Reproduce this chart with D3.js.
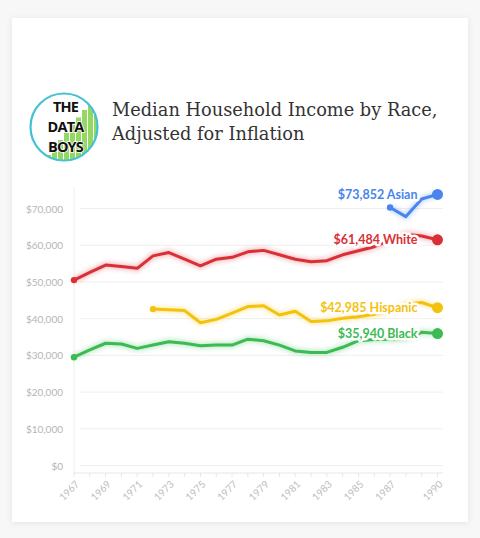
<!DOCTYPE html>
<html>
<head>
<meta charset="utf-8">
<script src="https://cdn.jsdelivr.net/npm/d3@7"></script>
<style>
  body { margin: 0; background: #f7f7f7; }
  svg { display: block; }
</style>
</head>
<body>
<script>
// data (thousands of dollars, adjusted for inflation)
const years = d3.range(1967, 1991);
const whiteIncome = [50.5, 52.6, 54.6, 54.2, 53.7, 57.1, 58.0, 56.2, 54.4, 56.2, 56.7, 58.2,
                     58.6, 57.4, 56.2, 55.5, 55.8, 57.4, 58.5, 59.6, 61.3, 63.0, 62.5, 61.484];
const blackIncome = [29.5, 31.5, 33.3, 33.1, 31.9, 32.8, 33.7, 33.3, 32.6, 32.8, 32.8, 34.4,
                     34.0, 32.8, 31.2, 30.8, 30.8, 32.2, 34.0, 34.3, 34.4, 34.6, 36.3, 35.94];
const hispanicYears = d3.range(1972, 1991);
const hispanicIncome = [42.6, 42.4, 42.2, 38.9, 39.8, 41.5, 43.3, 43.5, 41.0, 42.0, 39.2, 39.4,
                        40.1, 40.5, 41.2, 42.0, 44.0, 44.4, 42.985];
const asianYears = d3.range(1987, 1991);
const asianIncome = [70.3, 67.8, 72.6, 73.852];

const seriesNames = ["Asian", "White", "Hispanic", "Black"];
const seriesColors = ["#4885ed", "#d93036", "#f4c20d", "#3cba54"];
const yTicks = [0, 10000, 20000, 30000, 40000, 50000, 60000, 70000];
const xTickLabels = [1967, 1969, 1971, 1973, 1975, 1977, 1979, 1981, 1983, 1985, 1987, 1990];

const series = [
  {years: asianYears, values: asianIncome},
  {years: years, values: whiteIncome},
  {years: hispanicYears, values: hispanicIncome},
  {years: years, values: blackIncome}
].map(function(s, i) {
  return {
    name: seriesNames[i],
    color: seriesColors[i],
    points: s.years.map(function(y, j) { return {year: y, value: s.values[j] * 1000}; })
  };
});

const W = 480, H = 538;
const svg = d3.select("body").append("svg").attr("width", W).attr("height", H);
const defs = svg.append("defs");

// card shadow
const shadow = defs.append("filter").attr("id", "cardShadow")
  .attr("x", "-10%").attr("y", "-10%").attr("width", "120%").attr("height", "120%");
shadow.append("feDropShadow").attr("dx", 0).attr("dy", 1).attr("stdDeviation", 3)
  .attr("flood-color", "#000").attr("flood-opacity", 0.08);

// soft glow under lines
const glow = defs.append("filter").attr("id", "glow")
  .attr("x", "-10%").attr("y", "-30%").attr("width", "120%").attr("height", "160%");
glow.append("feGaussianBlur").attr("stdDeviation", 2.2);

svg.append("rect")
  .attr("x", 12).attr("y", 18).attr("width", 456).attr("height", 504)
  .attr("fill", "#fff").attr("filter", "url(#cardShadow)");

// logo
const logo = svg.append("g").attr("transform", "translate(64,127)");
defs.append("clipPath").attr("id", "logoClip")
  .append("circle").attr("r", 33);
const bars = logo.append("g").attr("clip-path", "url(#logoClip)");
d3.range(9).forEach(function(i) {
  const bx = -18 + i * 6;
  const bh = 8 + i * 7.5;
  bars.append("rect")
    .attr("x", bx).attr("y", 36 - bh).attr("width", 5).attr("height", bh)
    .attr("fill", "#93d862");
});
logo.append("circle").attr("r", 33.5)
  .attr("fill", "none").attr("stroke", "#45c1d4").attr("stroke-width", 2.2);
[["THE", -21], ["DATA", -1], ["BOYS", 19]].forEach(function(t) {
  logo.append("text")
    .attr("x", 1.5).attr("y", t[1])
    .attr("text-anchor", "middle").attr("dominant-baseline", "central")
    .attr("font-family", "'Open Sans', sans-serif").attr("font-weight", 700)
    .attr("font-size", 14.5).attr("letter-spacing", -0.8)
    .attr("fill", "#111")
    .attr("stroke", "#fff").attr("stroke-width", 1.5).attr("paint-order", "stroke")
    .text(t[0]);
});

// title
const title = svg.append("text")
  .attr("font-family", "'DejaVu Serif', serif")
  .attr("font-size", 17.8).attr("fill", "#333");
title.append("tspan").attr("x", 112).attr("y", 116).text("Median Household Income by Race,");
title.append("tspan").attr("x", 112).attr("y", 140).text("Adjusted for Inflation");

// scales
const x = d3.scaleLinear().domain([1967, 1990]).range([74, 437.5]);
const y = d3.scaleLinear().domain([0, 76000]).range([465.5, 186.5]);

const axisFont = "Lato, 'Open Sans', sans-serif";

// grid + y labels
const yg = svg.append("g");
yg.selectAll("line").data(yTicks).join("line")
  .attr("x1", 80).attr("x2", 443)
  .attr("y1", function(d) { return y(d); }).attr("y2", function(d) { return y(d); })
  .attr("stroke", "#efefef").attr("stroke-width", 1);
yg.selectAll("text").data(yTicks).join("text")
  .attr("x", 63).attr("y", function(d) { return y(d); })
  .attr("text-anchor", "end").attr("dominant-baseline", "central")
  .attr("font-family", axisFont).attr("font-size", 10).attr("fill", "#b5b5b5")
  .text(function(d) { return "$" + d3.format(",")(d); });

svg.append("line")
  .attr("x1", x(1967)).attr("x2", x(1967)).attr("y1", y(76000)).attr("y2", 473)
  .attr("stroke", "#eee");

// x axis
const xg = svg.append("g").attr("transform", "translate(0,473)");
xg.append("line").attr("x1", x(1967)).attr("x2", 443).attr("stroke", "#e6e6e6");
xg.selectAll("line.tick").data(years).join("line")
  .attr("class", "tick")
  .attr("x1", function(d) { return x(d); }).attr("x2", function(d) { return x(d); })
  .attr("y1", 0).attr("y2", 4).attr("stroke", "#e6e6e6");
xg.selectAll("text").data(xTickLabels).join("text")
  .attr("transform", function(d) { return "translate(" + (x(d) + 3) + ",9) rotate(-45)"; })
  .attr("text-anchor", "end").attr("dominant-baseline", "central")
  .attr("font-family", axisFont).attr("font-size", 10).attr("fill", "#bdbdbd")
  .text(function(d) { return d; });

// lines
const line = d3.line()
  .x(function(d) { return x(d.year); })
  .y(function(d) { return y(d.value); });

const lines = svg.append("g");
series.forEach(function(s) {
  lines.append("path").datum(s.points)
    .attr("d", line).attr("fill", "none")
    .attr("stroke", s.color).attr("stroke-width", 6).attr("stroke-opacity", 0.3)
    .attr("stroke-linejoin", "round")
    .attr("filter", "url(#glow)");
  lines.append("path").datum(s.points)
    .attr("d", line).attr("fill", "none")
    .attr("stroke", s.color).attr("stroke-width", 3)
    .attr("stroke-linejoin", "round").attr("stroke-linecap", "round");
  lines.append("circle")
    .attr("cx", x(s.points[0].year)).attr("cy", y(s.points[0].value))
    .attr("r", 3.2).attr("fill", s.color);
});

// end labels with white halo, then end dots
series.forEach(function(s) {
  const last = s.points[s.points.length - 1];
  svg.append("text")
    .attr("x", x(last.year) - 20).attr("y", y(last.value))
    .attr("text-anchor", "end").attr("dominant-baseline", "central")
    .attr("font-family", axisFont).attr("font-weight", 700).attr("font-size", 12.5)
    .attr("fill", s.color)
    .attr("stroke", "#fff").attr("stroke-width", 5).attr("paint-order", "stroke")
    .attr("stroke-linejoin", "round")
    .text("$" + d3.format(",")(Math.round(last.value)) + " " + s.name);
  svg.append("circle")
    .attr("cx", x(last.year)).attr("cy", y(last.value))
    .attr("r", 5.5).attr("fill", s.color);
});
</script>
</body>
</html>
